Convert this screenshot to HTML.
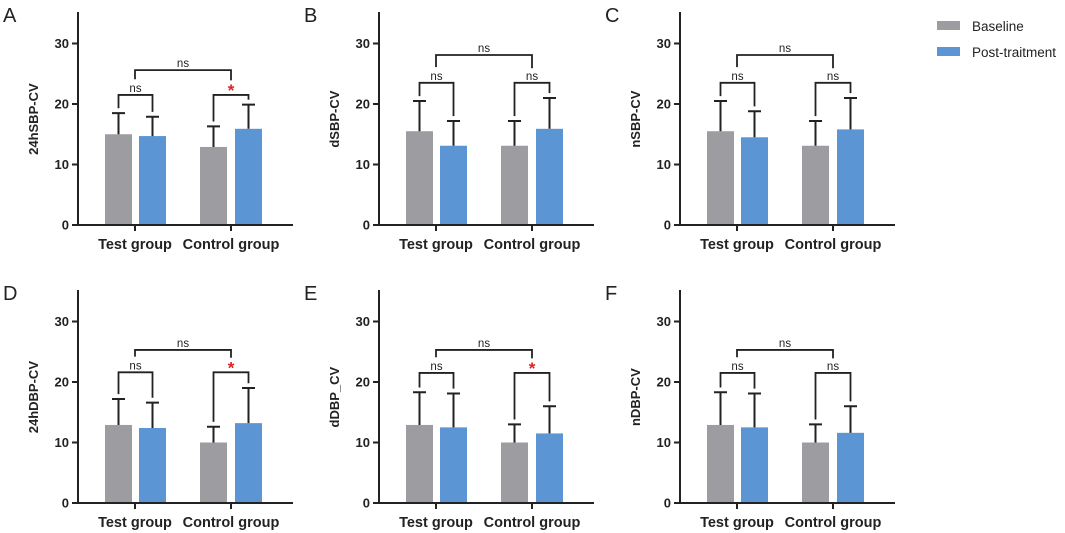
<!DOCTYPE html>
<html><head><meta charset="utf-8"><style>
html,body{margin:0;padding:0;background:#fff;}
svg{display:block;font-family:"Liberation Sans",Arial,sans-serif;}
</style></head><body>
<svg id="chart" width="1065" height="533" viewBox="0 0 1065 533" xmlns="http://www.w3.org/2000/svg">
  <g>
    <rect x="937" y="21" width="23" height="9" fill="#9c9ca1"/>
    <text x="972" y="31" font-size="13.5" fill="#222">Baseline</text>
    <rect x="937" y="47" width="23" height="9" fill="#5b95d3"/>
    <text x="972" y="57" font-size="13.5" fill="#222">Post-traitment</text>
  </g>
</svg>
<script>
const panelLetters = ["A","B","C","D","E","F"];
const yLabels = ["24hSBP-CV","dSBP-CV","nSBP-CV","24hDBP-CV","dDBP_CV","nDBP-CV"];
const categories = ["Test group","Control group"];
const yTicks = [0,10,20,30];
// [testBaseline, testPost, controlBaseline, controlPost]
const means = [
  [15.0,14.7,12.9,15.9],
  [15.5,13.1,13.1,15.9],
  [15.5,14.5,13.1,15.8],
  [12.9,12.4,10.0,13.2],
  [12.9,12.5,10.0,11.5],
  [12.9,12.5,10.0,11.6]
];
const errTops = [
  [18.5,17.9,16.3,19.9],
  [20.5,17.2,17.2,21.0],
  [20.5,18.8,17.2,21.0],
  [17.2,16.6,12.6,19.0],
  [18.3,18.1,13.0,16.0],
  [18.3,18.1,13.0,16.0]
];
// [testInner, controlInner, outer]
const bracketLevels = [
  [21.5,21.5,25.6],
  [23.5,23.5,28.1],
  [23.5,23.5,28.1],
  [21.6,21.6,25.3],
  [21.5,21.5,25.3],
  [21.5,21.5,25.3]
];
const innerLabels = [
  ["ns","*"],["ns","ns"],["ns","ns"],["ns","*"],["ns","*"],["ns","ns"]
];
const NS="http://www.w3.org/2000/svg";
const svg=document.getElementById('chart');
function mk(tag,attrs,parent){const e=document.createElementNS(NS,tag);for(const k in attrs)e.setAttribute(k,attrs[k]);parent.appendChild(e);return e;}
const colors=["#9c9ca1","#5b95d3"];
for(let p=0;p<6;p++){
  const ox=(p%3)*301, oy=Math.floor(p/3)*278;
  const ax=78+ox, y0=225+oy, ppu=6.05;
  const Y=v=>y0-v*ppu;
  const barX=[105,139,200,235].map(v=>v+ox);
  const bw=27;
  const g=mk('g',{},svg);
  
  
  const lt=mk('text',{x:3+ox,y:22+oy,'font-size':20,fill:'#222'},g);lt.textContent=panelLetters[p];
  
  
  for(let i=0;i<4;i++){
    const cx=barX[i]+bw/2;
    const r=mk('rect',{x:barX[i],y:Y(means[p][i]),width:bw,height:means[p][i]*ppu,fill:colors[i%2]},g);
    
    
    const e=mk('path',{d:`M${cx},${Y(means[p][i])}V${Y(errTops[p][i])}M${cx-6.5},${Y(errTops[p][i])}H${cx+6.5}`,stroke:'#222','stroke-width':2,fill:'none'},g);
    
    
  }
  const a=mk('path',{d:`M${ax},${12+oy}V${y0}H${293+ox}M${135+ox},${y0}V${y0+6}M${231+ox},${y0}V${y0+6}`,stroke:'#222','stroke-width':2,fill:'none'},g);
  
  
  yTicks.forEach(t=>{
    const tk=mk('path',{d:`M${ax-6},${Y(t)}H${ax}`,stroke:'#222','stroke-width':2},g);
    
    
    const tl=mk('text',{x:ax-9,y:Y(t)+4.5,'font-size':13,'font-weight':'bold','text-anchor':'end',fill:'#222'},g);tl.textContent=t;
    
    
  });
  categories.forEach((c,i)=>{
    const tl=mk('text',{x:[135,231][i]+ox,y:y0+24,'font-size':14.5,'font-weight':'bold','text-anchor':'middle',fill:'#222'},g);tl.textContent=c;
    
    
  });
  const yl=mk('text',{x:0,y:0,'font-size':13,'font-weight':'bold','text-anchor':'middle',fill:'#222',transform:`translate(${38+ox},${Y(17.5)}) rotate(-90)`},g);yl.textContent=yLabels[p];
  
  
  for(let k=0;k<2;k++){
    const lv=bracketLevels[p][k];
    const x1=barX[2*k]+bw/2,x2=barX[2*k+1]+bw/2;
    const b=mk('path',{d:`M${x1},${Y(errTops[p][2*k]+0.8)}V${Y(lv)}H${x2}V${Y(errTops[p][2*k+1]+0.8)}`,stroke:'#222','stroke-width':1.8,fill:'none'},g);
    
    
    const star=innerLabels[p][k]==='*';
    const t=mk('text',{x:(x1+x2)/2,y:Y(lv)-(star?-1:3),'font-size':star?17:11.5,'text-anchor':'middle',fill:star?'#e02020':'#222','font-weight':star?'bold':'normal'},g);t.textContent=innerLabels[p][k];
    
    
  }
  const ol=bracketLevels[p][2];
  const gx1=135+ox,gx2=231+ox;
  const ob=mk('path',{d:`M${gx1},${Y(bracketLevels[p][0]+2.6)}V${Y(ol)}H${gx2}V${Y(bracketLevels[p][1]+2.4)}`,stroke:'#222','stroke-width':1.8,fill:'none'},g);
  
  
  const ot=mk('text',{x:(gx1+gx2)/2,y:Y(ol)-3,'font-size':11.5,'text-anchor':'middle',fill:'#222'},g);ot.textContent='ns';
  
  
}
</script>
</body></html>
